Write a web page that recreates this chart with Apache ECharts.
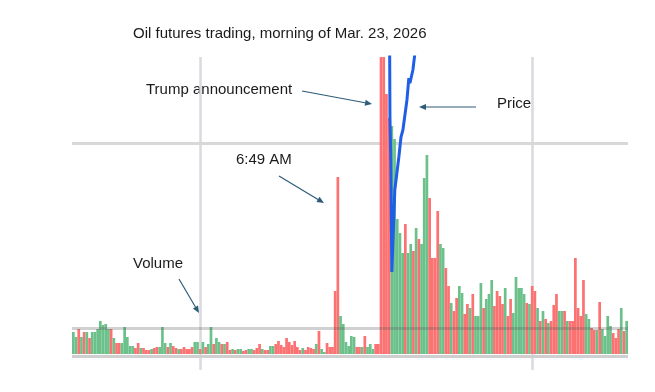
<!DOCTYPE html>
<html><head><meta charset="utf-8">
<script src="https://cdn.jsdelivr.net/npm/echarts@6/dist/echarts.min.js"></script>
<style>html,body{margin:0;padding:0;background:#fff}#c{width:655px;height:392px}</style>
</head><body><div id="c"></div>
<script>
// Volume per bar (arbitrary units), split by stretch of the morning
const volEarly   = [22,17,25,17,22,22,16,22,22,25,33,29,30,25,25,16,11,11,11,27,17,8,8,6,11,6,6];
const dirEarly   = ['G','G','R','G','R','G','R','G','G','G','G','G','G','G','R','G','R','R','G','G','G','G','G','R','R','G','R'];
const volQuiet1  = [4,4,5,6,7,7,27,11,7,11,8,6,5,5,7,5,5,7,12,12,5,12,7,10,27,10,16,12,10,10,12];
const dirQuiet1  = ['R','R','G','R','R','G','G','G','R','G','R','R','G','R','R','R','R','R','G','G','R','G','R','G','G','R','G','G','R','G','R'];
const volQuiet2  = [4,5,4,5,5,3,4,5,5,4,6,10,5,4,4,8,8,10,13,9,7,16,12,9,13,7,4,6,4,7];
const dirQuiet2  = ['R','G','R','G','G','R','R','G','G','R','R','R','G','R','R','G','G','R','R','R','R','R','R','R','R','R','R','G','R','R'];
const volSpike649 = [6,5,10,23,5,2,11,7,7,63,177,38,30,12,8,18,17,7,7,7,18,7,10,5,10,10];
const dirSpike649 = ['R','R','G','R','G','G','R','R','R','R','R','G','G','G','G','G','G','R','R','G','R','G','G','G','R','R'];
const volAnnounce = [300,300,260,236];
const dirAnnounce = ['R','R','R','R'];
const volAfter1  = [228,215,135,121,101,130,101,110,103,126,115,110,176,199,156,96,96,143,110,106,86,68,51,43,56,68,61,40,50,46];
const dirAfter1  = ['G','G','G','G','G','R','G','G','R','G','R','G','G','G','R','R','R','R','G','G','R','R','G','R','R','G','G','R','R','G'];
const volAfter2  = [60,38,38,71,46,55,60,74,48,63,58,50,66,38,55,41,77,66,66,60,51,50,68,63,46,33,43,35];
const dirAfter2  = ['R','G','G','G','R','G','G','G','R','R','R','R','G','R','R','G','G','G','G','G','R','G','R','R','G','R','G','R'];
const volAfter3  = [31,33,49,60,43,43,43,33,33,33,96,46,38,74,40,35,26,24,24,52,25,18,38,28,21,16,25,46,23,33];
const dirAfter3  = ['G','R','R','R','G','G','R','G','R','R','R','R','R','R','G','G','R','R','G','R','G','G','G','G','R','R','R','G','R','G'];

// Price line (x in bar-index units, price in $)
const priceX = [117.7,117.8,118.1,118.3,118.5,119.6,121.1,121.9,122.6,123.3,124.1,124.8,125.2,125.6,126.3,127.0];
const priceY = [110.2,105.21,102.01,97.22,92.83,99.38,102.01,103.61,104.17,104.25,106.57,108.32,107.92,108.0,108.96,110.2];

// Reference lines
const volumeGuides = [26, 211];
const timeGuides = [47.4, 170.7];

const volumes = [].concat(volEarly, volQuiet1, volQuiet2, volSpike649, volAnnounce, volAfter1, volAfter2, volAfter3);
const dirs = [].concat(dirEarly, dirQuiet1, dirQuiet2, dirSpike649, dirAnnounce, dirAfter1, dirAfter2, dirAfter3);
const categories = volumes.map((_, i) => String(i + 1));

const RED = '#fc7171', GREEN = '#6cc18b', ARROW = '#2d5b78', TXT = '#1a1a1a';
const FONT = '15px "Liberation Sans", Arial, sans-serif';

function arrow(x1, y1, x2, y2) {
  const a = Math.atan2(y2 - y1, x2 - x1), L = 7, W = 3;
  const bx = x2 - L * Math.cos(a), by = y2 - L * Math.sin(a);
  const px = -Math.sin(a) * W, py = Math.cos(a) * W;
  return [
    { type: 'line', silent: true, shape: { x1: x1, y1: y1, x2: bx, y2: by }, style: { stroke: ARROW, lineWidth: 1.2 } },
    { type: 'polygon', silent: true, shape: { points: [[x2, y2], [bx + px, by + py], [bx - px, by - py]] }, style: { fill: ARROW } }
  ];
}
function label(text, x, y) {
  return { type: 'text', x: x, y: y, silent: true, style: { text: text, font: FONT, fill: TXT, verticalAlign: 'middle' } };
}

const chart = echarts.init(document.getElementById('c'), null, { renderer: 'canvas' });
chart.setOption({
  animation: false,
  backgroundColor: '#fff',
  grid: { left: 72, right: 27, top: 57, bottom: 22 },
  xAxis: [
    { type: 'category', data: categories, show: false, boundaryGap: true },
    { type: 'value', min: 0, max: volumes.length, show: false }
  ],
  yAxis: [
    { type: 'value', min: -16, max: 297, show: false },
    { type: 'value', min: 85, max: 110, show: false }
  ],
  series: [
    {
      type: 'line', xAxisIndex: 1, yAxisIndex: 0, data: [], z: 0, silent: true,
      markLine: {
        z: 0, silent: true, symbol: 'none', label: { show: false }, animation: false,
        data: [
          { xAxis: timeGuides[0], lineStyle: { color: '#d8dade', width: 2.5, type: 'solid' } },
          { xAxis: timeGuides[1], lineStyle: { color: '#d8dade', width: 2.5, type: 'solid' } },
          { yAxis: volumeGuides[1], lineStyle: { color: '#d8d8d8', width: 3, type: 'solid' } },
          { yAxis: -1.8, lineStyle: { color: '#cfcfcf', width: 3, type: 'solid' } }
        ]
      }
    },
    {
      type: 'bar', xAxisIndex: 0, yAxisIndex: 0, z: 2, barCategoryGap: '0%',
      data: volumes.map((v, i) => ({ value: v, itemStyle: { color: dirs[i] === 'R' ? RED : GREEN } }))
    },
    {
      type: 'line', xAxisIndex: 1, yAxisIndex: 0, data: [], z: 4, silent: true,
      markLine: {
        z: 4, silent: true, symbol: 'none', label: { show: false }, animation: false,
        data: [{ yAxis: volumeGuides[0], lineStyle: { color: 'rgba(90,90,90,0.28)', width: 3, type: 'solid' } }]
      }
    },
    {
      type: 'line', xAxisIndex: 1, yAxisIndex: 1, z: 6, symbol: 'none', clip: true,
      data: priceX.map((x, i) => [x, priceY[i]]),
      lineStyle: { color: '#1f5ee6', width: 3 }
    }
  ],
  graphic: [
    label('Oil futures trading, morning of Mar. 23, 2026', 133, 34),
    label('Trump announcement', 146, 90),
    label('Price', 497, 104),
    label('6:49 AM', 236, 160),
    label('Volume', 133, 264)
  ].concat(
    arrow(302, 91, 372, 104),
    arrow(476, 107, 419, 107),
    arrow(279, 176, 324, 203),
    arrow(179, 279, 199, 313)
  )
});
</script>
</body></html>
